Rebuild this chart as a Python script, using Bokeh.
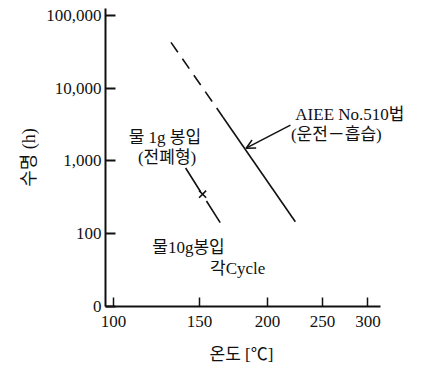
from bokeh.plotting import figure
from bokeh.layouts import row
from bokeh.models import (Range1d, FixedTicker, CustomJSTickFormatter, Label, Arrow,
                          OpenHead, Title, Spacer)
from bokeh.embed import file_html
from bokeh.resources import INLINE

# Temperature axis uses an Arrhenius (reciprocal absolute temperature) scale.
def inv_t(t):
    return -1000.0 / (t + 273.0)

temp_ticks = [100, 150, 200, 250, 300]
life_ticks = [10, 100, 1000, 10000, 100000]

# AIEE No.510 method: extrapolated (dashed) and measured (solid) parts
aiee_dash_temp = [132, 166]
aiee_dash_life = [42700, 4000]
aiee_solid_temp = [166, 224]
aiee_solid_life = [4000, 146]

# 1 g water, sealed type
sealed_temp = [141, 164]
sealed_life = [800, 142]

# 10 g water, each cycle
cycle_temp = [152]
cycle_life = [350]

SERIF = "'Liberation Serif', 'Noto Sans CJK KR'"
NUM_FONT = "Liberation Serif"

x_lo = inv_t(100) - 0.029
x_axis_end = inv_t(300) + 0.046

LEFT_PAD = 10

p = figure(width=425 - LEFT_PAD, height=376,
           x_range=Range1d(x_lo, x_lo + 320.0 / 272.0),
           y_range=Range1d(10, 124800), y_axis_type="log",
           output_backend="svg", toolbar_location=None,
           min_border_left=105 - LEFT_PAD, min_border_right=0,
           min_border_top=8, min_border_bottom=69)
p.outline_line_color = None
p.xgrid.visible = False
p.ygrid.visible = False
p.background_fill_color = "white"
p.border_fill_color = "white"

lc = "#111111"

p.line([inv_t(t) for t in aiee_dash_temp], aiee_dash_life,
       line_color=lc, line_width=1.6, line_dash="12 8")
p.line([inv_t(t) for t in aiee_solid_temp], aiee_solid_life,
       line_color=lc, line_width=1.6)
p.line([inv_t(t) for t in sealed_temp], sealed_life,
       line_color=lc, line_width=1.6, line_dash="28 11")
p.scatter([inv_t(t) for t in cycle_temp], cycle_life, marker="x",
          size=10, line_color=lc, line_width=1.6)

# Axes
xa = p.xaxis[0]
xa.bounds = (x_lo, x_axis_end)
xa.ticker = FixedTicker(ticks=[inv_t(t) for t in temp_ticks])
xa.formatter = CustomJSTickFormatter(code="return String(Math.round(-1000/tick - 273));")
xa.minor_tick_line_color = None
xa.major_tick_in = 9
xa.major_tick_out = 0
xa.axis_line_width = 2
xa.axis_line_color = lc
xa.major_tick_line_color = lc
xa.major_tick_line_width = 1.5
xa.major_label_text_font = NUM_FONT
xa.major_label_text_font_size = "17px"
xa.major_label_text_color = lc
xa.major_label_standoff = 9

# x-axis title, centred under the drawn axis line rather than the whole frame
p.add_layout(Title(text="온도 [℃]", align="left", offset=104, standoff=26,
                   text_font=SERIF, text_font_size="17px",
                   text_font_style="normal", text_color=lc), "below")

ya = p.yaxis[0]
ya.ticker = FixedTicker(ticks=life_ticks)
ya.formatter = CustomJSTickFormatter(
    code="return tick <= 10 ? '0' : Math.round(tick).toLocaleString('en-US');")
ya.minor_tick_line_color = None
ya.major_tick_in = 10
ya.major_tick_out = 0
ya.axis_line_width = 2
ya.axis_line_color = lc
ya.major_tick_line_color = lc
ya.major_tick_line_width = 2
ya.major_label_text_font = NUM_FONT
ya.major_label_text_font_size = "17px"
ya.major_label_text_color = lc
ya.major_label_standoff = 4
ya.axis_label = "수명 (h)"
ya.axis_label_text_font = SERIF
ya.axis_label_text_font_size = "18px"
ya.axis_label_text_font_style = "normal"
ya.axis_label_text_color = lc
ya.axis_label_standoff = 4

# Annotations
notes = [
    ("AIEE No.510법", 224, 4400),
    ("(운전－흡습)", 220, 2310),
    ("물 1g 봉입", 108, 2100),
    ("(전폐형)", 113, 1117),
    ("물10g봉입", 121, 65),
    ("각Cycle", 157, 33.6),
]
for txt, t, life in notes:
    p.add_layout(Label(x=inv_t(t), y=life, text=txt, text_font=SERIF,
                       text_font_size="17px", text_color=lc,
                       text_align="left", text_baseline="middle"))

p.add_layout(Arrow(end=OpenHead(size=9, line_width=1.5, line_color=lc),
                   x_start=inv_t(219.6), y_start=3110,
                   x_end=inv_t(183), y_end=1500,
                   line_width=1.5, line_color=lc))

layout = row(Spacer(width=LEFT_PAD, height=376), p, spacing=0)

open("out.html", "w").write(file_html(layout, INLINE))
